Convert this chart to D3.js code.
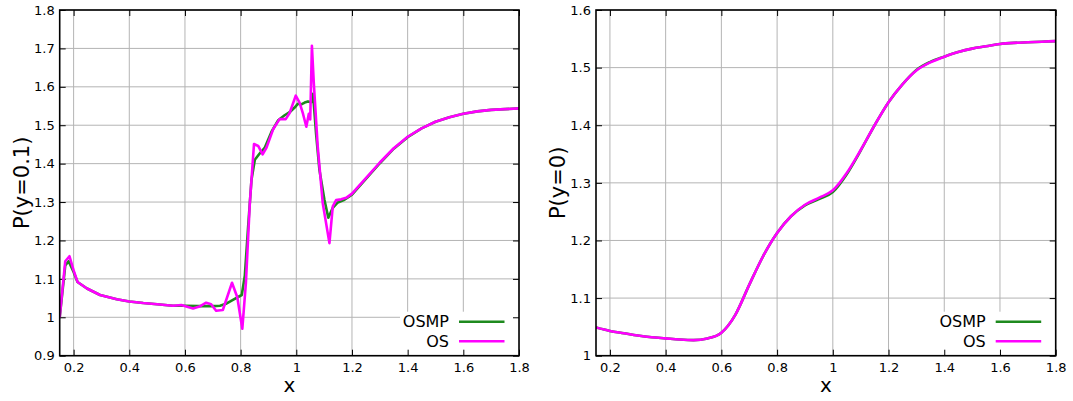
<!DOCTYPE html>
<html><head><meta charset="utf-8">
<script src="https://cdn.jsdelivr.net/npm/d3@7"></script>
<style>body{margin:0;background:#fff;} svg{display:block;font-family:"DejaVu Sans",sans-serif;}</style>
</head><body>
<svg id="c" width="1073" height="401"></svg>
<script>
// ---------- data ----------
const seriesNames = ["OSMP", "OS"];
const xTicks = [0.2,0.4,0.6,0.8,1,1.2,1.4,1.6,1.8];
const yTicksLeft = [0.9,1,1.1,1.2,1.3,1.4,1.5,1.6,1.7,1.8];
const yTicksRight = [1,1.1,1.2,1.3,1.4,1.5,1.6];

// left panel: P(y=0.1)
const xLeftOS = [0.150,0.170,0.185,0.200,0.214,0.248,0.295,0.355,0.400,0.450,0.500,0.557,0.587,0.629,0.652,0.676,0.694,0.712,0.736,0.769,0.788,0.806,0.819,0.833,0.848,0.863,0.879,0.893,0.917,0.940,0.962,0.976,0.998,1.012,1.024,1.036,1.045,1.050,1.056,1.063,1.077,1.095,1.119,1.131,1.143,1.161,1.179,1.200,1.250,1.300,1.350,1.400,1.450,1.500,1.550,1.600,1.650,1.700,1.750,1.800];
const pLeftOS = [1.000,1.146,1.159,1.122,1.092,1.075,1.058,1.047,1.041,1.037,1.034,1.030,1.032,1.023,1.028,1.038,1.034,1.017,1.019,1.090,1.052,0.970,1.090,1.297,1.451,1.446,1.424,1.442,1.490,1.516,1.516,1.532,1.577,1.558,1.530,1.496,1.530,1.515,1.707,1.608,1.444,1.297,1.193,1.289,1.305,1.307,1.311,1.322,1.362,1.403,1.440,1.470,1.492,1.509,1.521,1.530,1.536,1.540,1.542,1.544];
const xLeftOSMP = [0.150,0.170,0.182,0.200,0.214,0.248,0.295,0.355,0.400,0.450,0.500,0.557,0.600,0.650,0.700,0.726,0.750,0.774,0.804,0.815,0.827,0.839,0.851,0.869,0.887,0.911,0.935,0.958,0.976,0.994,1.006,1.018,1.030,1.042,1.054,1.060,1.071,1.083,1.101,1.115,1.131,1.149,1.173,1.200,1.250,1.300,1.350,1.400,1.450,1.500,1.550,1.600,1.650,1.700,1.750,1.800];
const pLeftOSMP = [1.000,1.135,1.146,1.118,1.092,1.075,1.058,1.047,1.041,1.037,1.034,1.030,1.030,1.029,1.029,1.030,1.036,1.046,1.058,1.108,1.237,1.358,1.410,1.427,1.442,1.483,1.513,1.526,1.534,1.546,1.556,1.554,1.559,1.562,1.560,1.582,1.478,1.384,1.306,1.259,1.285,1.299,1.306,1.319,1.360,1.401,1.439,1.469,1.492,1.509,1.521,1.530,1.536,1.540,1.542,1.544];

// right panel: P(y=0)
const xRight = [0.15,0.2,0.25,0.3,0.35,0.4,0.45,0.5,0.55,0.6,0.65,0.7,0.75,0.8,0.85,0.9,0.95,1.0,1.05,1.1,1.15,1.2,1.25,1.3,1.35,1.4,1.45,1.5,1.55,1.6,1.65,1.7,1.75,1.8];
const pRightOS = [1.049,1.043,1.039,1.035,1.032,1.030,1.028,1.027,1.030,1.040,1.071,1.123,1.173,1.213,1.242,1.262,1.274,1.287,1.317,1.357,1.400,1.440,1.471,1.495,1.509,1.519,1.527,1.533,1.537,1.541,1.543,1.544,1.545,1.546];
const pRightOSMP = [1.049,1.043,1.039,1.035,1.032,1.030,1.028,1.027,1.030,1.040,1.071,1.123,1.173,1.213,1.242,1.261,1.272,1.284,1.315,1.356,1.400,1.440,1.471,1.496,1.510,1.519,1.527,1.533,1.537,1.541,1.543,1.544,1.545,1.546];

const colors = {OSMP: "#1e8a1e", OS: "#ff00ff"};

// ---------- drawing ----------
const svg = d3.select("#c");

function panel(o) {
  const x = d3.scaleLinear().domain([0.15, 1.8]).range([o.left, o.right]);
  const y = d3.scaleLinear().domain(o.yDomain).range([o.bottom, o.top]);
  const g = svg.append("g");

  // grid
  g.selectAll(".gx").data(xTicks).enter().append("line")
    .attr("x1", d => x(d)).attr("x2", d => x(d)).attr("y1", o.top).attr("y2", o.bottom)
    .attr("stroke", "#b4b4b4").attr("stroke-width", 1);
  g.selectAll(".gy").data(o.yTicks).enter().append("line")
    .attr("y1", d => y(d)).attr("y2", d => y(d)).attr("x1", o.left).attr("x2", o.right)
    .attr("stroke", "#b4b4b4").attr("stroke-width", 1);

  // legend background (opaque)
  g.append("rect").attr("x", o.right - 119).attr("y", o.bottom - 44)
    .attr("width", 119).attr("height", 44).attr("fill", "#fff");

  // ticks (inward, mirrored)
  const xb = d3.axisBottom(x).tickValues(xTicks).tickSizeInner(-6).tickSizeOuter(0).tickFormat(d3.format("~g")).tickPadding(7);
  const xt = d3.axisTop(x).tickValues(xTicks).tickSizeInner(-6).tickSizeOuter(0).tickFormat("");
  const yl = d3.axisLeft(y).tickValues(o.yTicks).tickSizeInner(-6).tickSizeOuter(0).tickFormat(d3.format("~g")).tickPadding(5);
  const yr = d3.axisRight(y).tickValues(o.yTicks).tickSizeInner(-6).tickSizeOuter(0).tickFormat("");
  [[xb, `translate(0,${o.bottom})`], [xt, `translate(0,${o.top})`], [yl, `translate(${o.left},0)`], [yr, `translate(${o.right},0)`]].forEach(([ax, tr]) => {
    const a = g.append("g").attr("transform", tr).call(ax);
    a.select(".domain").remove();
    a.selectAll("line").attr("stroke", "#000").attr("stroke-width", 1);
    a.selectAll("text").attr("font-size", 13).attr("fill", "#000").attr("font-family", "DejaVu Sans");
  });

  // curves
  const clipId = "clip" + o.id;
  svg.append("clipPath").attr("id", clipId).append("rect")
    .attr("x", o.left).attr("y", o.top).attr("width", o.right - o.left).attr("height", o.bottom - o.top);
  const line = d3.line().x(d => x(d[0])).y(d => y(d[1])).curve(o.curve);
  o.series.forEach(s => {
    g.append("path").datum(s.xs.map((v, i) => [v, s.ps[i]]))
      .attr("d", line).attr("fill", "none").attr("stroke", colors[s.name])
      .attr("stroke-width", 2.6).attr("stroke-linejoin", "round").attr("clip-path", `url(#${clipId})`);
  });

  // frame
  g.append("rect").attr("x", o.left).attr("y", o.top).attr("width", o.right - o.left).attr("height", o.bottom - o.top)
    .attr("fill", "none").attr("stroke", "#000").attr("stroke-width", 1.6);

  // legend
  seriesNames.forEach((n, i) => {
    const yy = o.bottom - 34 + i * 19.6;
    g.append("text").attr("x", o.right - 70).attr("y", yy).attr("dy", "0.36em")
      .attr("text-anchor", "end").attr("font-size", 16).attr("fill", "#000").text(n);
    g.append("line").attr("x1", o.right - 60).attr("x2", o.right - 14.5).attr("y1", yy).attr("y2", yy)
      .attr("stroke", colors[n]).attr("stroke-width", 2.6);
  });

  // axis titles
  g.append("text").attr("x", (o.left + o.right) / 2).attr("y", 392).attr("text-anchor", "middle")
    .attr("font-size", 20).attr("fill", "#000").text("x");
  g.append("text").attr("transform", `translate(${o.left - 31},${(o.top + o.bottom) / 2}) rotate(-90)`)
    .attr("text-anchor", "middle").attr("font-size", 21).attr("fill", "#000").text(o.ylabel);
}

panel({id: "L", left: 59.7, right: 519, top: 10, bottom: 355.7, yDomain: [0.9, 1.8], yTicks: yTicksLeft,
  ylabel: "P(y=0.1)", curve: d3.curveLinear,
  series: [{name: "OSMP", xs: xLeftOSMP, ps: pLeftOSMP}, {name: "OS", xs: xLeftOS, ps: pLeftOS}]});
panel({id: "R", left: 596, right: 1055.7, top: 10, bottom: 355.7, yDomain: [1, 1.6], yTicks: yTicksRight,
  ylabel: "P(y=0)", curve: d3.curveMonotoneX,
  series: [{name: "OSMP", xs: xRight, ps: pRightOSMP}, {name: "OS", xs: xRight, ps: pRightOS}]});
</script>
</body></html>
